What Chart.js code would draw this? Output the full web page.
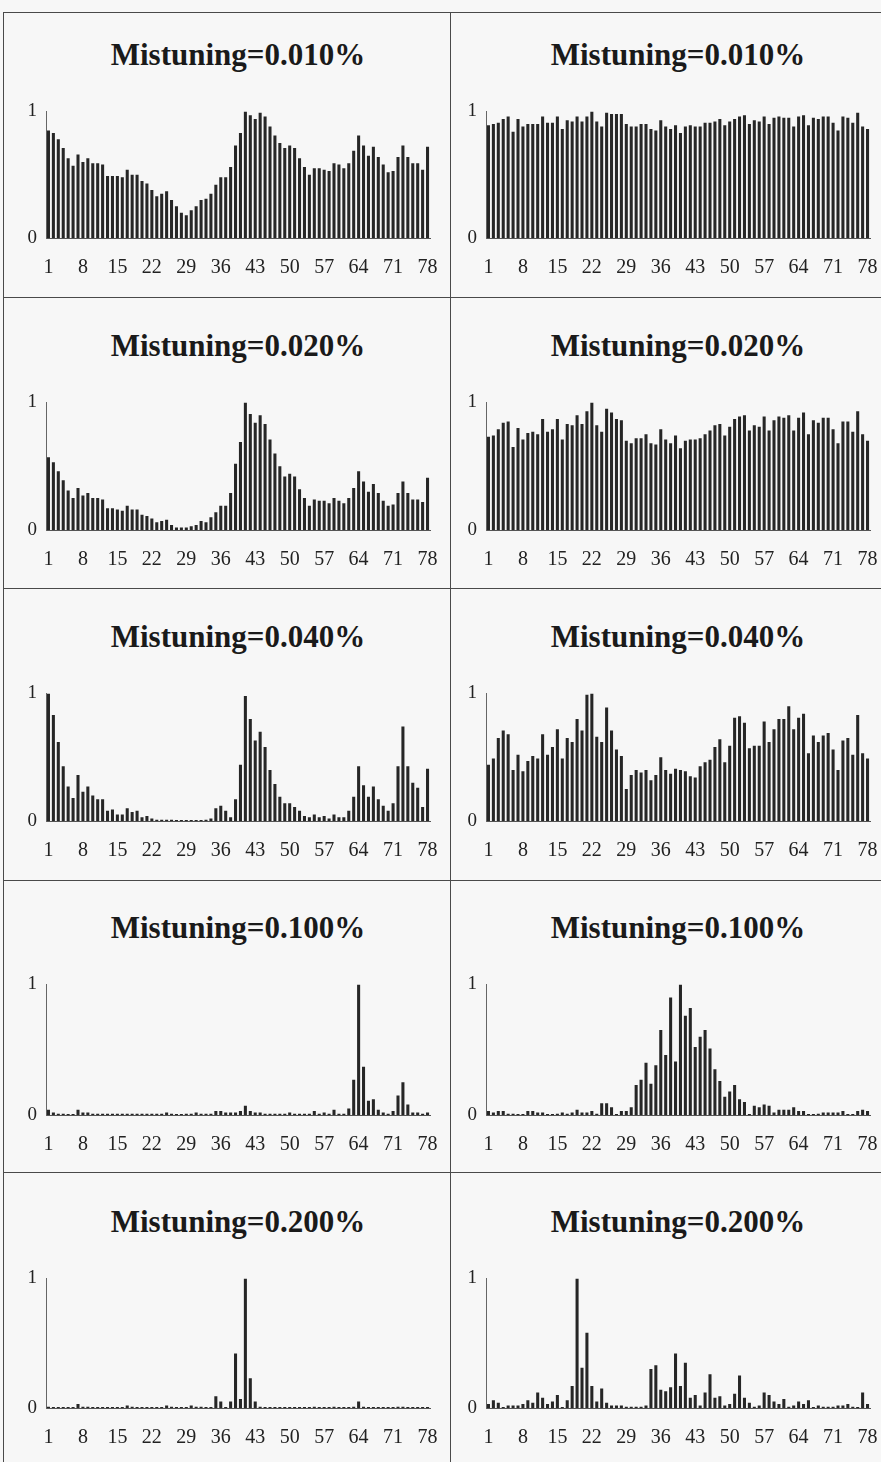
<!DOCTYPE html>
<html>
<head>
<meta charset="utf-8">
<script src="https://cdn.jsdelivr.net/npm/chart.js@4.4.1/dist/chart.umd.min.js"></script>
<style>
  body { margin: 0; background: #f7f7f7; width: 881px; height: 1462px; overflow: hidden; position: relative; font-family: "Liberation Serif", serif; }
  .linea { position: absolute; background: #4a4a4a; }
  .titulo { position: absolute; width: 420px; text-align: center; font-weight: bold; font-size: 31px; line-height: 36px; color: #1a1a1a; }
  canvas { position: absolute; }
</style>
</head>
<body>
<script>
// categorias (numero de paleta) y etiquetas visibles del eje x
const categorias = Array.from({ length: 78 }, (_, i) => String(i + 1));
const tickLabels = ["1", "8", "15", "22", "29", "36", "43", "50", "57", "64", "71", "78"];
const mistuning = ["0.010", "0.020", "0.040", "0.100", "0.200"];

// columna izquierda
const izq010 = [0.85,0.83,0.78,0.71,0.63,0.57,0.66,0.60,0.63,0.59,0.59,0.58,0.49,0.49,0.49,0.48,0.54,0.50,0.50,0.45,0.43,0.38,0.33,0.35,0.37,0.30,0.25,0.20,0.18,0.22,0.25,0.30,0.31,0.35,0.42,0.48,0.48,0.56,0.73,0.83,1.00,0.97,0.94,0.99,0.96,0.88,0.81,0.75,0.71,0.73,0.71,0.63,0.56,0.50,0.55,0.55,0.54,0.53,0.59,0.58,0.55,0.59,0.69,0.81,0.73,0.65,0.72,0.64,0.58,0.52,0.53,0.64,0.73,0.64,0.59,0.59,0.54,0.72];
const izq020 = [0.57,0.53,0.46,0.39,0.31,0.25,0.33,0.27,0.29,0.25,0.25,0.24,0.17,0.17,0.16,0.15,0.19,0.16,0.16,0.12,0.11,0.09,0.06,0.07,0.08,0.04,0.02,0.02,0.02,0.03,0.04,0.07,0.06,0.10,0.14,0.19,0.19,0.29,0.52,0.69,1.00,0.91,0.84,0.90,0.83,0.71,0.60,0.50,0.42,0.44,0.42,0.32,0.25,0.19,0.24,0.23,0.23,0.21,0.25,0.23,0.21,0.25,0.33,0.46,0.38,0.30,0.36,0.29,0.23,0.19,0.20,0.29,0.38,0.29,0.24,0.24,0.22,0.41];
const izq040 = [1.00,0.83,0.62,0.43,0.27,0.18,0.36,0.23,0.27,0.20,0.17,0.17,0.08,0.09,0.05,0.05,0.10,0.07,0.08,0.03,0.04,0.02,0.01,0.01,0.01,0.01,0.005,0.005,0.005,0.005,0.005,0.005,0.01,0.02,0.10,0.12,0.08,0.03,0.17,0.44,0.98,0.80,0.63,0.70,0.58,0.40,0.29,0.19,0.14,0.14,0.11,0.08,0.04,0.03,0.05,0.03,0.04,0.02,0.05,0.03,0.03,0.08,0.19,0.43,0.28,0.19,0.27,0.17,0.12,0.08,0.14,0.43,0.74,0.43,0.30,0.26,0.11,0.41];
const izq100 = [0.04,0.02,0.01,0.01,0.005,0.005,0.04,0.02,0.02,0.01,0.01,0.01,0.01,0.01,0.01,0.01,0.01,0.01,0.01,0.01,0.01,0.01,0.01,0.01,0.02,0.01,0.005,0.005,0.01,0.01,0.02,0.01,0.01,0.01,0.03,0.03,0.02,0.02,0.02,0.03,0.07,0.03,0.02,0.02,0.01,0.01,0.01,0.01,0.01,0.02,0.01,0.01,0.01,0.01,0.03,0.01,0.02,0.01,0.04,0.01,0.01,0.05,0.27,1.00,0.37,0.11,0.12,0.04,0.02,0.01,0.03,0.15,0.25,0.08,0.02,0.02,0.01,0.02];
const izq200 = [0.01,0.005,0.005,0.005,0.005,0.005,0.03,0.01,0.01,0.005,0.005,0.005,0.005,0.005,0.005,0.005,0.02,0.01,0.005,0.005,0.005,0.005,0.005,0.005,0.02,0.01,0.005,0.005,0.005,0.02,0.01,0.01,0.005,0.005,0.09,0.05,0.005,0.05,0.42,0.07,1.00,0.23,0.05,0.01,0.005,0.005,0.005,0.005,0.005,0.005,0.005,0.005,0.005,0.005,0.01,0.005,0.005,0.005,0.01,0.005,0.005,0.005,0.01,0.05,0.01,0.005,0.005,0.005,0.005,0.005,0.005,0.01,0.01,0.005,0.005,0.005,0.005,0.005];

// columna derecha
const der010 = [0.89,0.90,0.91,0.94,0.96,0.84,0.94,0.88,0.90,0.90,0.90,0.96,0.91,0.91,0.96,0.86,0.93,0.92,0.96,0.92,0.96,1.00,0.92,0.88,0.99,0.98,0.98,0.98,0.90,0.88,0.88,0.90,0.90,0.86,0.85,0.93,0.88,0.86,0.89,0.83,0.88,0.89,0.88,0.88,0.91,0.91,0.92,0.94,0.89,0.92,0.94,0.96,0.97,0.90,0.93,0.92,0.96,0.90,0.95,0.96,0.95,0.95,0.88,0.96,0.97,0.89,0.95,0.94,0.96,0.96,0.91,0.85,0.96,0.95,0.91,0.99,0.88,0.86];
const der020 = [0.73,0.74,0.79,0.84,0.85,0.65,0.80,0.71,0.76,0.77,0.75,0.87,0.77,0.79,0.87,0.71,0.83,0.82,0.90,0.83,0.93,1.00,0.82,0.77,0.95,0.92,0.87,0.86,0.70,0.68,0.72,0.72,0.75,0.68,0.67,0.79,0.71,0.68,0.74,0.64,0.70,0.71,0.71,0.72,0.75,0.78,0.82,0.83,0.74,0.81,0.87,0.89,0.90,0.78,0.82,0.81,0.89,0.78,0.86,0.89,0.88,0.90,0.78,0.88,0.92,0.75,0.86,0.84,0.88,0.88,0.79,0.68,0.85,0.85,0.77,0.93,0.75,0.70];
const der040 = [0.44,0.49,0.65,0.71,0.68,0.40,0.52,0.39,0.47,0.51,0.49,0.68,0.52,0.58,0.72,0.49,0.65,0.62,0.80,0.71,0.99,1.00,0.66,0.62,0.89,0.71,0.56,0.51,0.25,0.36,0.40,0.38,0.40,0.32,0.36,0.50,0.40,0.37,0.41,0.40,0.39,0.35,0.34,0.43,0.46,0.48,0.58,0.64,0.46,0.59,0.81,0.82,0.77,0.57,0.59,0.59,0.78,0.62,0.72,0.80,0.80,0.90,0.72,0.81,0.84,0.53,0.67,0.62,0.67,0.69,0.56,0.40,0.63,0.65,0.52,0.83,0.53,0.49];
const der100 = [0.03,0.02,0.03,0.03,0.01,0.01,0.005,0.005,0.03,0.03,0.02,0.02,0.005,0.005,0.01,0.02,0.01,0.02,0.04,0.02,0.02,0.03,0.01,0.09,0.09,0.06,0.005,0.03,0.03,0.06,0.23,0.27,0.40,0.24,0.38,0.65,0.46,0.90,0.41,1.00,0.76,0.82,0.52,0.60,0.65,0.51,0.35,0.26,0.14,0.18,0.23,0.12,0.10,0.005,0.07,0.06,0.08,0.07,0.02,0.04,0.04,0.04,0.06,0.03,0.03,0.005,0.005,0.01,0.02,0.02,0.02,0.02,0.03,0.005,0.005,0.03,0.04,0.03];
const der200 = [0.03,0.06,0.04,0.005,0.02,0.02,0.02,0.03,0.06,0.04,0.12,0.08,0.03,0.05,0.10,0.005,0.06,0.17,1.00,0.31,0.58,0.17,0.05,0.15,0.04,0.02,0.02,0.02,0.01,0.01,0.01,0.01,0.02,0.30,0.33,0.14,0.13,0.16,0.42,0.17,0.35,0.08,0.10,0.02,0.12,0.26,0.08,0.09,0.02,0.03,0.11,0.25,0.08,0.04,0.01,0.02,0.12,0.10,0.05,0.03,0.07,0.01,0.02,0.05,0.03,0.06,0.005,0.02,0.01,0.01,0.01,0.02,0.02,0.03,0.01,0.005,0.12,0.03];

const columnas = [
  [izq010, izq020, izq040, izq100, izq200],
  [der010, der020, der040, der100, der200],
];

// posiciones de cada fila/columna (pixeles de la pagina)
const plotTop = [111, 402, 693, 984, 1278];
const plotBottom = [238, 530, 821, 1115, 1408];
const ejeX = [46, 486];
const plotRight = [430, 870];
const ANCHO_Y = 40;
const PAD_TOP = 20;
const ALTO_X = 50;
const PAD_DER = 14;

// marco de la tabla
function linea(x, y, w, h) {
  const d = document.createElement("div");
  d.className = "linea";
  d.style.left = x + "px";
  d.style.top = y + "px";
  d.style.width = w + "px";
  d.style.height = h + "px";
  document.body.appendChild(d);
}
linea(3, 12, 878, 1);
linea(3, 12, 1, 1450);
linea(450, 12, 1, 1450);
[297, 588, 880, 1172].forEach((y) => linea(3, y, 878, 1));

function dibujarPanel(col, fila) {
  const valores = columnas[col][fila];

  // titulo del panel
  const t = document.createElement("div");
  t.className = "titulo";
  t.textContent = "Mistuning=" + mistuning[fila] + "%";
  t.style.left = (ejeX[col] + plotRight[col]) / 2 - 210 + "px";
  t.style.top = plotTop[fila] - 56 - 18 + "px";
  document.body.appendChild(t);

  const canvas = document.createElement("canvas");
  const izq = ejeX[col] - ANCHO_Y;
  const ancho = plotRight[col] + PAD_DER - izq;
  const alto = plotBottom[fila] - plotTop[fila] + PAD_TOP + ALTO_X;
  canvas.width = ancho;
  canvas.height = alto;
  canvas.style.left = izq + "px";
  canvas.style.top = plotTop[fila] - PAD_TOP + "px";
  document.body.appendChild(canvas);

  new Chart(canvas, {
    type: "bar",
    data: {
      labels: categorias,
      datasets: [
        {
          data: valores,
          backgroundColor: "#262626",
          barPercentage: 0.62,
          categoryPercentage: 1,
          minBarLength: 1,
        },
      ],
    },
    options: {
      responsive: false,
      animation: false,
      devicePixelRatio: 1,
      layout: { padding: { top: PAD_TOP, right: PAD_DER, left: 0, bottom: 0 } },
      plugins: { legend: { display: false }, tooltip: { enabled: false } },
      scales: {
        x: {
          grid: { display: false, drawTicks: false },
          border: { display: true, color: "#555", width: 1 },
          ticks: {
            autoSkip: false,
            maxRotation: 0,
            padding: 18,
            color: "#222",
            font: { family: "Liberation Serif", size: 20 },
            callback: function (v, i) {
              const l = categorias[i];
              return tickLabels.includes(l) ? l : "";
            },
          },
          afterFit: (s) => {
            s.height = ALTO_X;
            s.paddingLeft = 0;
            s.paddingRight = 0;
          },
        },
        y: {
          min: 0,
          max: 1,
          grid: { display: false, drawTicks: false },
          border: { display: true, color: "#666", width: 1 },
          ticks: {
            stepSize: 1,
            padding: 9,
            color: "#222",
            font: { family: "Liberation Serif", size: 19 },
          },
          afterFit: (s) => { s.width = ANCHO_Y; },
        },
      },
    },
  });
}

for (let fila = 0; fila < 5; fila++) {
  dibujarPanel(0, fila);
  dibujarPanel(1, fila);
}
</script>
</body>
</html>
